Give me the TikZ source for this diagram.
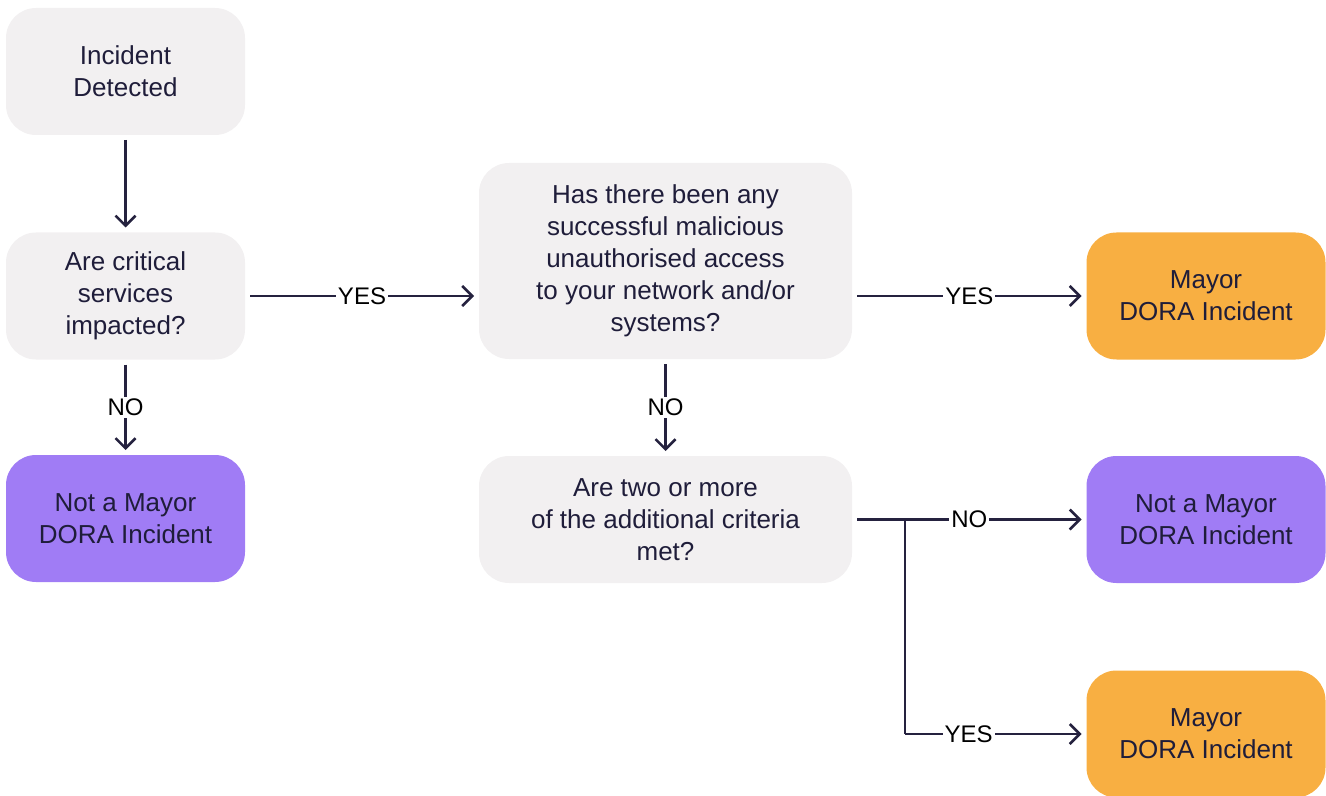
\documentclass[tikz,border=0pt]{standalone}
\usepackage{fontspec}
\setmainfont{Liberation Sans}
\usetikzlibrary{arrows.meta}
\definecolor{boxgrey}{HTML}{F2F0F1}
\definecolor{boxpurple}{HTML}{A07CF5}
\definecolor{boxorange}{HTML}{F8AF42}
\definecolor{ink}{HTML}{1F1D3A}
\definecolor{wire}{HTML}{25223F}
\newcommand{\drawgrey}{\node[flowbox, fill=boxgrey]}
\newcommand{\drawpurple}{\node[flowbox, fill=boxpurple]}
\newcommand{\draworange}{\node[flowbox, fill=boxorange]}
\newcommand{\drawwide}{\node[flowbox, fill=boxgrey, minimum width=186.5pt]}

\begin{document}
\begin{tikzpicture}[x=0.5pt, y=-0.5pt, color=wire, line width=1.25pt,
  flowbox/.style={rounded corners=15pt, minimum width=119.5pt, minimum height=63.5pt,
    align=center, outer sep=2.5pt, text=ink, font=\fontsize{13}{16}\selectfont},
  answer/.style={fill=white, inner sep=1pt, text=black, font=\fontsize{12}{14}\selectfont},
  ->/.style={-{Straight Barb[length=5pt, width=10pt, line width=1.25pt]}}]
\useasboundingbox (0,0) rectangle (1326,796);
%incident flow, left column
\drawgrey (detect) at (125.5,71.5) {Incident\\Detected};
\drawgrey (critical) at (125.5,296) {Are critical\\services\\impacted?};
\drawpurple (notmajor) at (125.5,518.5) {Not a Mayor\\DORA Incident};
%middle column
\drawwide[minimum height=98pt] (access) at (665.5,261) {Has there been any\\successful malicious\\unauthorised access\\to your network and/or\\systems?};
\drawwide (criteria) at (665.5,519.5) {Are two or more\\of the additional criteria\\met?};
%right column
\draworange (major) at (1206,296) {Mayor\\DORA Incident};
\drawpurple (notmajortwo) at (1206,519.5) {Not a Mayor\\DORA Incident};
\draworange (majortwo) at (1206,734) {Mayor\\DORA Incident};
\coordinate (split) at (905,519.5);
\coordinate (corner) at (905,734);

\draw[->] (detect) to (critical);
\draw[->] (critical) to node [answer, midway] {NO} (notmajor);
\draw[->] (critical.east) to node [answer, midway] {YES} (critical.east -| access.west);
\draw[->] (access.east |- major) to node [answer, midway] {YES} (major);
\draw[->] (access) to node [answer, midway] {NO} (criteria);
\draw[->] (criteria) to node [answer, midway] {NO} (notmajortwo);
\draw (split) to (corner);
\draw[->] (corner) to node [answer, pos=0.36] {YES} (majortwo);
\end{tikzpicture}
\end{document}
